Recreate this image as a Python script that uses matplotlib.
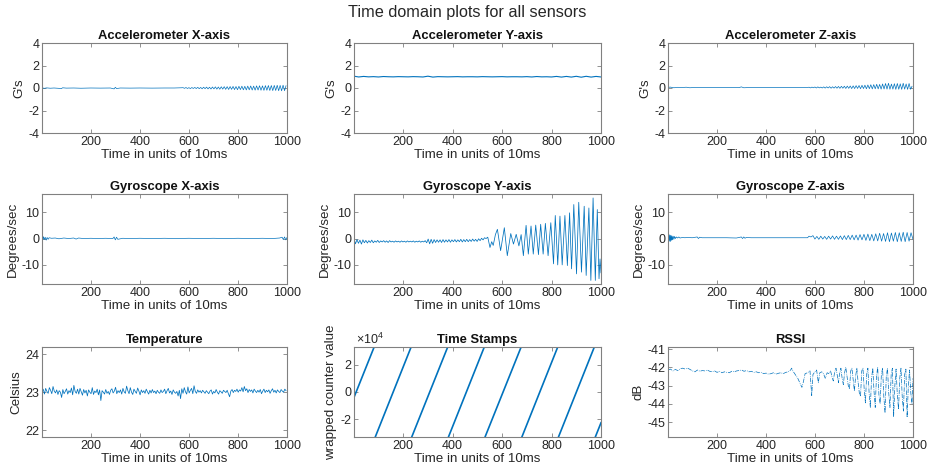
import numpy as np
import matplotlib
matplotlib.use('Agg')
import matplotlib.pyplot as plt

plt.rcParams['font.family'] = ['Liberation Sans', 'DejaVu Sans']
plt.rcParams['axes.unicode_minus'] = False
plt.rcParams['mathtext.fontset'] = 'custom'
plt.rcParams['mathtext.rm'] = 'Liberation Sans'

# ---- data (sample index 1..1000) ----
acc_x_flat = [(1, 0.02), (10, -0.03), (20, 0.01), (35, -0.02), (50, 0.0), (70, -0.03), (80, -0.06),
              (85, 0.02), (100, -0.01), (130, 0.0), (160, -0.02), (200, 0.0), (240, -0.01), (280, 0.0),
              (295, -0.08), (300, 0.06), (305, -0.05), (320, 0.0), (360, -0.01), (400, 0.0),
              (450, -0.01), (500, 0.0), (540, 0.0), (570, 0.02)]
acc_x_osc = [0.03, -0.03, 0.04, -0.04, 0.03, -0.05, 0.04, -0.04, 0.05, -0.05,
             0.06, -0.06, 0.05, -0.07, 0.07, -0.06, 0.08, -0.08, 0.07, -0.09,
             0.09, -0.08, 0.10, -0.10, 0.09, -0.11, 0.11, -0.10, 0.12, -0.12,
             0.12, -0.13, 0.13, -0.12, 0.14, -0.14, 0.13, -0.15, 0.15, -0.14,
             0.16, -0.16, 0.15, -0.17, 0.17, -0.16, 0.18, -0.18, 0.17, -0.19,
             0.19, -0.18, 0.20, -0.20, 0.19, -0.21, 0.21, -0.20, 0.22, -0.22,
             0.22, -0.23, 0.23, -0.22, 0.24, -0.24, 0.23, -0.25, 0.25, -0.24, 0.20]

acc_y = [1.05, 0.98, 1.03, 0.99, 1.01, 0.98, 1.02, 1.00, 0.99, 1.01,
         1.00, 0.99, 1.01, 1.00, 0.98, 1.05, 0.97, 1.01, 1.00, 0.99,
         1.00, 1.01, 0.99, 1.00, 1.00, 0.99, 1.01, 1.00, 0.99, 1.00,
         1.01, 0.99, 1.00, 1.00, 0.99, 1.01, 0.98, 1.02, 0.99, 1.00,
         0.98, 1.03, 0.97, 1.03, 0.97, 1.04, 0.96, 1.04, 0.97, 1.03,
         0.98]

acc_z_flat = [(1, 0.05), (10, 0.08), (25, 0.02), (40, 0.06), (60, 0.04), (75, 0.07), (90, 0.02),
              (110, 0.05), (140, 0.04), (180, 0.05), (220, 0.04), (260, 0.05), (290, 0.03),
              (300, 0.10), (310, 0.02), (340, 0.05), (380, 0.04), (420, 0.05), (470, 0.04),
              (520, 0.04), (570, 0.05)]
acc_z_osc = [0.07, 0.01, 0.08, 0.02, 0.09, 0.0, 0.10, 0.01, 0.08, 0.0,
             0.10, -0.01, 0.11, 0.0, 0.12, -0.02, 0.11, -0.01, 0.13, -0.02,
             0.14, -0.03, 0.15, -0.02, 0.16, -0.04, 0.17, -0.03, 0.18, -0.05,
             0.19, -0.05, 0.21, -0.04, 0.22, -0.06, 0.24, -0.05, 0.25, -0.07,
             0.27, -0.06, 0.29, -0.08, 0.30, -0.07, 0.33, -0.08, 0.32, -0.10,
             0.36, -0.09, 0.40, -0.10, 0.42, -0.11, 0.35, -0.10, 0.38, -0.12,
             0.40, -0.11, 0.37, -0.12, 0.42, -0.10, 0.36, -0.12, 0.40, -0.11, 0.15]

gyro_x = [(1, 0.6), (4, -0.5), (7, 0.7), (10, -0.4), (14, 0.5), (18, -0.6), (22, 0.4), (26, -0.3),
          (30, 0.3), (40, 0.1), (55, 0.2), (70, -0.1), (90, 0.2), (110, 0.0), (130, 0.2), (140, -0.2),
          (150, 0.2), (170, 0.0), (200, 0.1), (230, 0.0), (260, 0.1), (290, 0.0), (295, 0.6),
          (300, -0.5), (305, 0.5), (310, -0.3), (330, 0.1), (360, 0.0), (400, 0.1), (450, 0.0),
          (500, 0.1), (550, 0.0), (600, 0.1), (650, 0.0), (700, 0.1), (750, 0.0), (800, 0.1),
          (850, 0.0), (900, 0.1), (940, 0.0), (970, 0.2), (980, 0.5), (985, -0.4), (990, 0.6),
          (995, -0.5), (1000, 0.4)]

gyro_y_early = [-0.2, -2.0, -0.4, -1.8, -0.6, -2.1, -0.5, -1.6, -0.7, -1.7,
                -0.8, -1.5, -0.6, -1.6, -0.9, -1.4, -0.7, -1.5, -0.9, -1.3,
                -0.8, -1.4, -0.9, -1.5, -0.8, -1.3, -1.0, -1.4, -0.9, -1.3,
                -1.0, -1.4, -0.9, -1.3, -1.0, -1.4, -0.9, -1.3, -1.0, -1.3,
                -0.9, -1.4, -1.0, -1.3, -0.9, -1.4, -1.0, -1.3, -0.8, -1.6,
                -0.2, -2.0, -0.3, -1.8, -0.4, -1.5, -0.5, -1.4, -0.5, -1.5,
                -0.4, -1.4, -0.5, -1.3, -0.4, -1.4, -0.5, -1.2, -0.4, -1.3,
                -0.5, -1.2, -0.3, -1.3, -0.4, -1.2, -0.3, -1.2, -0.4, -1.1,
                -0.2, -1.0, -0.3, -1.1, -0.1, -0.8, 0.1, -0.5, 0.3, 0.0]
gyro_y_late = [(542, 0.5), (551, -3.4), (558, -1.2), (564, -2.6), (573, 1.5), (581, 3.5), (594, -4.6),
               (609, 4.1), (621, -6.5), (635, 1.9), (646, -2.1), (657, 1.6), (668, -2.8), (677, 1.5),
               (686, -6.5), (697, 5.0), (706, -5.9), (717, 4.75), (726, -5.9), (736, 5.1), (747, -6.1),
               (756, 5.4), (766, -5.9), (775, 5.75), (786, -6.5), (797, 6.0), (808, -9.6), (815, 8.75),
               (825, -10.0), (834, 8.5), (843, -10.0), (854, 8.75), (864, -10.25), (873, 9.75),
               (881, -11.5), (890, 12.9), (901, -13.4), (910, 13.75), (921, -12.75), (932, 12.25),
               (940, -14.0), (951, 11.6), (959, -15.9), (968, 15.4), (977, -15.9), (985, 11.0),
               (992, -15.25), (996, -7.75), (1000, -13.0)]

gyro_z_flat = [(1, 1.6), (3, -1.2), (5, 1.5), (7, -1.0), (9, 1.3), (11, -1.1), (13, 1.2), (15, -0.7),
               (17, 1.0), (19, -0.5), (22, 0.9), (25, -0.3), (28, 0.8), (31, 0.0), (35, 0.6), (40, 0.2),
               (45, 0.6), (50, 0.2), (60, 0.4), (70, 0.3), (80, 0.4), (100, 0.3), (120, 0.6), (125, 0.0),
               (130, 0.5), (140, 0.3), (160, 0.3), (200, 0.3), (240, 0.3), (280, 0.2), (300, 0.6),
               (305, 0.0), (310, 0.6), (315, 0.1), (320, 0.4), (340, 0.3), (380, 0.3), (420, 0.3),
               (460, 0.3), (500, 0.3), (540, 0.3), (570, 0.3)]
gyro_z_osc = [0.9, 0.6, 1.1, -0.2, 0.8, -0.3, 0.9, -0.2, 0.8, -0.3,
              0.9, -0.2, 1.0, -0.3, 0.9, -0.3, 1.0, -0.4, 1.1, -0.4,
              1.2, -0.4, 1.3, -0.5, 1.3, -0.6, 1.5, -0.5, 1.6, -0.7,
              1.7, -0.8, 1.6, -0.9, 1.8, -0.9, 2.0, -1.0, 1.9, -1.1,
              2.2, -1.2, 2.1, -1.0, 2.3, -1.2, 2.2, -1.1, 2.4, -1.2,
              2.3, -1.0, 2.2, -0.3]

temperature = [23.00, 23.08, 22.95, 23.10, 23.02, 22.97, 23.12, 23.05, 22.96, 23.15,
               23.03, 22.98, 23.06, 22.94, 23.04, 23.00, 22.86, 23.07, 22.96, 23.02,
               23.09, 22.95, 23.04, 22.99, 23.11, 22.93, 23.18, 23.02, 22.97, 23.08,
               22.95, 23.10, 23.01, 22.92, 23.07, 22.98, 23.05, 22.90, 23.06, 23.00,
               22.96, 23.12, 22.94, 23.03, 22.99, 23.08, 22.93, 23.06, 22.78, 23.04,
               23.00, 22.95, 23.07, 22.97, 23.02, 22.94, 23.05, 23.09, 22.98, 23.03,
               23.13, 22.96, 23.04, 22.99, 23.06, 22.95, 23.10, 23.01, 22.97, 23.16,
               23.04, 22.96, 23.12, 23.00, 22.94, 23.08, 23.02, 22.97, 23.11, 23.03,
               22.93, 23.06, 22.99, 23.04, 22.97, 23.08, 23.01, 22.95, 23.05, 22.98,
               23.07, 22.99, 23.03, 22.96, 23.05, 23.00, 22.97, 23.06, 22.99, 23.02,
               23.08, 22.96, 23.04, 23.10, 22.98, 23.03, 22.94, 23.06, 23.00, 22.97,
               23.02, 22.90, 23.05, 22.83, 23.09, 22.97, 23.12, 23.01, 22.95, 23.14,
               22.98, 23.05, 23.10, 22.96, 23.17, 23.02, 22.97, 23.06, 23.00, 23.04,
               22.98, 23.05, 23.01, 22.97, 23.04, 23.00, 22.96, 23.03, 23.06, 22.95,
               23.02, 22.98, 23.07, 23.00, 22.95, 23.04, 23.01, 22.97, 23.05, 23.02,
               22.99, 23.05, 22.96, 22.88, 23.03, 23.07, 22.99, 23.05, 23.02, 23.08,
               23.00, 23.06, 23.03, 23.12, 23.01, 23.15, 23.04, 23.09, 22.99, 23.07,
               23.02, 23.06, 22.98, 23.08, 23.03, 22.99, 23.05, 23.00, 23.07, 22.96,
               23.03, 23.08, 22.99, 23.05, 23.01, 23.06, 22.97, 23.04, 23.09, 23.00,
               23.05, 22.98, 23.06, 23.02, 22.99, 23.07, 23.03, 23.00, 23.08, 23.04]

# counter segments between wraps: (start sample, start value, end sample, end value)
timestamp_segments = [(1, -3900, 82.5, 32767), (87, -32768, 232, 32767), (234.5, -32768, 380, 32767),
                      (383, -32768, 528, 32767), (531, -32768, 677, 32767), (680, -32768, 825, 32767),
                      (828, -32768, 973, 32767), (977, -32768, 1000, -22400)]

rssi_early = [-42.15, -42.10, -42.20, -42.12, -42.18, -42.08, -42.05, -42.10, -42.05, -42.12,
              -42.20, -42.25, -42.15, -42.22, -42.18, -42.20, -42.15, -42.22, -42.25, -42.20,
              -42.28, -42.22, -42.30, -42.25, -42.28, -42.30, -42.22, -42.25, -42.20, -42.18,
              -42.15, -42.22, -42.18, -42.25, -42.22, -42.28, -42.25, -42.30, -42.28, -42.35,
              -42.32, -42.38, -42.35, -42.30, -42.38, -42.33, -42.30, -42.35, -42.28, -42.25]
rssi_late = [(501, -42.15), (505, -42.05), (510, -42.20), (520, -42.40), (530, -42.60), (540, -42.90),
             (547, -43.10), (553, -42.80), (560, -42.35), (570, -42.30), (580, -42.20), (587, -43.55),
             (592, -42.40), (600, -42.25), (607, -42.15), (614, -42.85), (620, -42.30), (628, -42.25),
             (635, -42.35), (642, -42.60), (650, -42.30), (657, -42.35), (664, -42.20), (670, -42.55),
             (675, -42.75), (680, -42.30), (686, -42.05), (692, -42.50), (696, -42.85), (700, -42.40),
             (706, -42.05), (711, -42.60), (716, -42.95), (721, -42.30), (726, -42.00), (731, -42.50),
             (736, -43.00), (741, -43.20), (746, -42.20), (751, -42.05), (756, -42.70), (761, -43.30),
             (766, -42.50), (771, -42.05), (776, -42.80), (781, -43.40), (786, -43.60), (791, -42.20),
             (796, -42.05), (801, -43.20), (806, -43.95), (811, -42.40), (816, -42.05), (821, -43.40),
             (826, -44.20), (831, -42.60), (836, -42.05), (841, -43.30), (846, -44.20), (851, -42.50),
             (856, -42.00), (861, -43.50), (866, -44.00), (871, -42.40), (876, -42.05), (881, -43.60),
             (886, -44.50), (891, -42.50), (896, -42.05), (901, -43.40), (906, -44.20), (911, -42.40),
             (916, -42.05), (921, -44.70), (926, -43.00), (931, -42.10), (936, -43.50), (941, -44.30),
             (946, -42.60), (951, -42.05), (956, -43.60), (961, -44.40), (966, -42.40), (971, -42.10),
             (976, -44.75), (981, -43.00), (986, -42.15), (991, -43.40), (996, -44.00), (1000, -42.60)]

xtick_vals = [200, 400, 600, 800, 1000]
blue = '#0072BD'


def join(pairs, start, step, vals):
    t1, v1 = np.array(pairs, dtype=float).T
    t2 = start + step * np.arange(len(vals))
    return np.r_[t1, t2], np.r_[v1, vals]


fig = plt.figure(figsize=(9.35, 4.76), dpi=100)
W, H = 935, 476
col_left = [42, 354, 668]
col_width = [245, 247, 245]
row_top = [43, 194, 347]
ax_h = 90


def make_ax(row, col, title, ylabel):
    ax = fig.add_axes([col_left[col] / W, 1 - (row_top[row] + ax_h) / H,
                       col_width[col] / W, ax_h / H])
    ax.set_xlim(1, 1000)
    ax.set_xticks(xtick_vals)
    ax.tick_params(direction='in', length=3, width=0.6, top=True, right=True,
                   labelsize=9, colors='#808080', labelcolor='#262626', pad=2)
    for s in ax.spines.values():
        s.set_color('#808080')
        s.set_linewidth(0.8)
    ax.set_title(title, fontsize=9.4, fontweight='bold', color='#111111', pad=3)
    ax.set_xlabel('Time in units of 10ms', fontsize=9.6, color='#262626', labelpad=1)
    ax.set_ylabel(ylabel, fontsize=9.6, color='#262626', labelpad=2)
    return ax


fig.text(0.5, 1 - 12 / H, 'Time domain plots for all sensors', ha='center', va='center',
         fontsize=11.7, color='#262626')

# accelerometer
t, v = join(acc_x_flat, 576, 6, acc_x_osc)
ax = make_ax(0, 0, 'Accelerometer X-axis', "G's")
ax.plot(t, v, color=blue, lw=0.5)
ax.set_ylim(-4, 4)
ax.set_yticks([-4, -2, 0, 2, 4])

ax = make_ax(0, 1, 'Accelerometer Y-axis', "G's")
ax.plot(np.r_[1, np.arange(20, 1001, 20)], acc_y, color=blue, lw=0.8)
ax.set_ylim(-4, 4)
ax.set_yticks([-4, -2, 0, 2, 4])

t, v = join(acc_z_flat, 576, 6, acc_z_osc)
ax = make_ax(0, 2, 'Accelerometer Z-axis', "G's")
ax.plot(t, v, color=blue, lw=0.5)
ax.set_ylim(-4, 4)
ax.set_yticks([-4, -2, 0, 2, 4])

# gyroscope
gy_lim = (-17.25, 16.9)
t, v = np.array(gyro_x).T
ax = make_ax(1, 0, 'Gyroscope X-axis', 'Degrees/sec')
ax.plot(t, v, color=blue, lw=0.5)
ax.set_ylim(*gy_lim)
ax.set_yticks([-10, 0, 10])

t_late, v_late = np.array(gyro_y_late).T
t = np.r_[1 + 6 * np.arange(len(gyro_y_early)), t_late]
v = np.r_[gyro_y_early, v_late]
ax = make_ax(1, 1, 'Gyroscope Y-axis', 'Degrees/sec')
ax.plot(t, v, color=blue, lw=0.55)
ax.set_ylim(*gy_lim)
ax.set_yticks([-10, 0, 10])

t, v = join(gyro_z_flat, 576, 8, gyro_z_osc)
ax = make_ax(1, 2, 'Gyroscope Z-axis', 'Degrees/sec')
ax.plot(t, v, color=blue, lw=0.5)
ax.set_ylim(*gy_lim)
ax.set_yticks([-10, 0, 10])

# temperature
ax = make_ax(2, 0, 'Temperature', 'Celsius')
ax.plot(1 + 5 * np.arange(len(temperature)), temperature, color=blue, lw=0.55)
ax.set_ylim(21.82, 24.19)
ax.set_yticks([22, 23, 24])

# time stamps
ax = make_ax(2, 1, 'Time Stamps', 'wrapped counter value')
for t0, v0, t1, v1 in timestamp_segments:
    ax.plot([t0, t1], [v0, v1], color=blue, lw=1.2)
ax.set_ylim(-32768, 32767)
ax.set_yticks([-20000, 0, 20000])
ax.set_yticklabels(['-2', '0', '2'])
ax.text(0.01, 1.0, r'$\times10^{4}$', transform=ax.transAxes, ha='left', va='bottom',
        fontsize=9, color='#262626')

# rssi
t_late, v_late = np.array(rssi_late).T
t = np.r_[1 + 10 * np.arange(len(rssi_early)), t_late]
v = np.r_[rssi_early, v_late]
ax = make_ax(2, 2, 'RSSI', 'dB')
ax.plot(t, v, color=blue, lw=0.5, ls='-.')
ax.set_ylim(-45.82, -40.89)
ax.set_yticks([-45, -44, -43, -42, -41])

fig.savefig('out.png', dpi=100)
